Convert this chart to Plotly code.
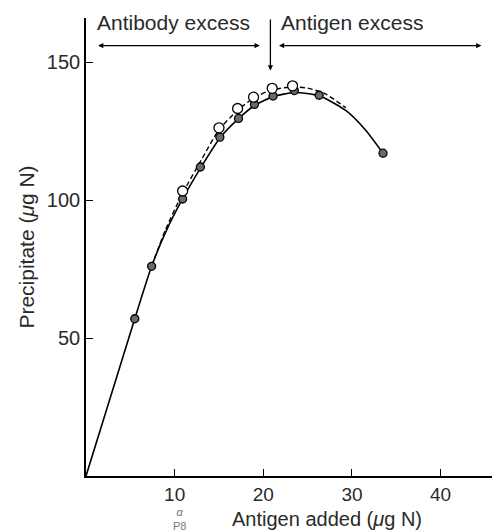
import plotly.graph_objects as go

# Data
antigen_filled = [5.5, 7.4, 10.9, 12.9, 15.1, 17.2, 19.0, 21.1, 23.5, 26.3, 33.5]
precip_filled = [57, 76, 100.4, 112, 122.8, 129.6, 134.7, 137.7, 139.7, 138.0, 117]

antigen_open = [10.9, 15.0, 17.1, 18.9, 21.0, 23.3]
precip_open = [103.3, 126.2, 133.2, 137.3, 140.5, 141.4]

solid_curve_x = [0, 5.5, 7.4, 9.0, 10.9, 12.9, 15.1, 17.2, 19.0, 21.1, 23.5, 26.3, 29.3, 31.5, 33.5]
solid_curve_y = [0, 57, 76, 88.5, 100.5, 111.5, 122.5, 129.5, 134.3, 137.5, 139.0, 137.8, 132.5, 125.5, 117]

dashed_curve_x = [7.4, 9.0, 10.9, 13.0, 15.0, 17.1, 18.9, 21.0, 23.3, 25.0, 27.0, 29.3]
dashed_curve_y = [76, 89.5, 102.5, 114.5, 125.5, 132.5, 137.0, 140.0, 141.0, 140.6, 138.5, 133.5]

x_ticks = [10, 20, 30, 40]
y_ticks = [50, 100, 150]

FONT = "Liberation Sans"
TXT = "#2a2a2a"

fig = go.Figure()
fig.add_trace(go.Scatter(x=solid_curve_x, y=solid_curve_y, mode="lines",
                         line=dict(color="black", width=1.6, shape="spline", smoothing=0.6),
                         hoverinfo="skip", showlegend=False))
fig.add_trace(go.Scatter(x=dashed_curve_x, y=dashed_curve_y, mode="lines",
                         line=dict(color="black", width=1.4, dash="5px,3px", shape="spline", smoothing=0.6),
                         hoverinfo="skip", showlegend=False))
fig.add_trace(go.Scatter(x=antigen_filled, y=precip_filled, mode="markers",
                         marker=dict(size=8, color="#6a6a6a", line=dict(color="black", width=1.3)),
                         showlegend=False))
fig.add_trace(go.Scatter(x=antigen_open, y=precip_open, mode="markers",
                         marker=dict(size=10, color="white", line=dict(color="black", width=1.3)),
                         showlegend=False))

# Region labels and arrows
fig.add_annotation(x=9.9, y=164.3, text="Antibody excess", showarrow=False,
                   font=dict(family=FONT, size=21, color=TXT), xanchor="center", yanchor="middle")
fig.add_annotation(x=30.0, y=164.3, text="Antigen excess", showarrow=False,
                   font=dict(family=FONT, size=21, color=TXT), xanchor="center", yanchor="middle")
fig.add_annotation(x=19.6, y=156, ax=1.2, ay=156, axref="x", ayref="y", xref="x", yref="y",
                   text="", showarrow=True, arrowhead=2, arrowsize=0.8, arrowwidth=1.3,
                   arrowside="end+start", arrowcolor="black")
fig.add_annotation(x=44.6, y=156, ax=21.6, ay=156, axref="x", ayref="y", xref="x", yref="y",
                   text="", showarrow=True, arrowhead=2, arrowsize=0.8, arrowwidth=1.3,
                   arrowside="end+start", arrowcolor="black")
fig.add_annotation(x=20.8, y=147, ax=20.8, ay=166, axref="x", ayref="y", xref="x", yref="y",
                   text="", showarrow=True, arrowhead=2, arrowsize=0.8, arrowwidth=1.3,
                   arrowcolor="black")

# x-axis title
fig.add_annotation(xref="paper", yref="paper", x=0.57, y=-0.093, xanchor="center", yanchor="middle",
                   text="Antigen added (<i>μ</i>g N)", showarrow=False,
                   font=dict(family=FONT, size=20, color=TXT))
fig.add_annotation(xref="paper", yref="paper", x=0.221, y=-0.093, xanchor="center", yanchor="middle",
                   text="<i>α</i><br>P8", showarrow=False, align="center",
                   font=dict(family=FONT, size=11, color="#777"))

fig.update_layout(
    width=500, height=532,
    margin=dict(l=78, r=0, t=10, b=64),
    paper_bgcolor="white", plot_bgcolor="white",
    font=dict(family=FONT, size=19, color=TXT),
    xaxis=dict(range=[0, 47.6], tickvals=x_ticks, ticks="inside", ticklen=7, tickwidth=1.2,
               tickcolor="black", showline=True, linecolor="black", linewidth=1.6,
               showgrid=False, zeroline=False, tickfont=dict(family=FONT, size=19, color=TXT)),
    yaxis=dict(range=[0, 166], tickvals=y_ticks, ticks="inside", ticklen=7, tickwidth=1.2,
               tickcolor="black", showline=True, linecolor="black", linewidth=1.6,
               showgrid=False, zeroline=False, tickfont=dict(family=FONT, size=20, color=TXT),
               title=dict(text="Precipitate (<i>μ</i>g N)", font=dict(family=FONT, size=21, color=TXT),
                          standoff=6)),
)

fig.write_html("out.html")
